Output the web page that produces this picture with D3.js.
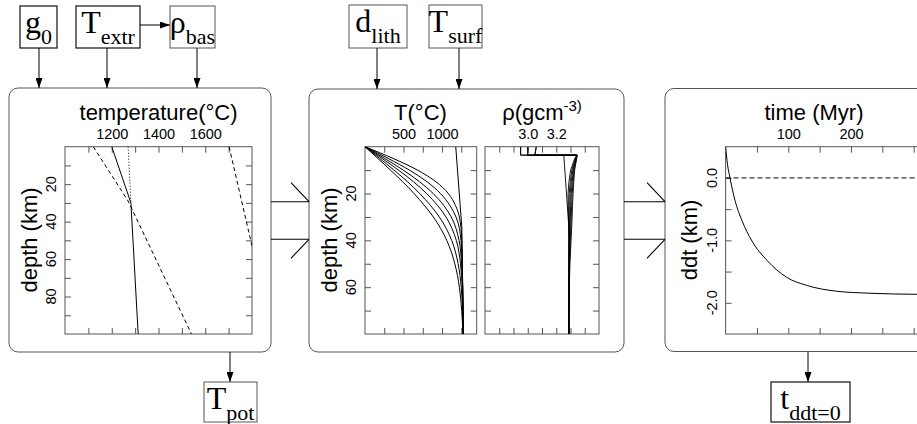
<!DOCTYPE html>
<html><head><meta charset="utf-8">
<script src="https://cdn.jsdelivr.net/npm/d3@7"></script>
<style>body{margin:0;background:#fff}svg{display:block}</style>
</head><body><svg id="c" width="917" height="424"></svg>
<script>
// ---------- data ----------
// panel 1: temperature vs depth
const p1TempTicks = [1100,1200,1300,1400,1500,1600,1700];
const p1TempLabels = [1200,1400,1600];
const p1DepthTicks = [10,20,30,40,50,60,70,80,90];
const p1DepthLabels = [20,40,60,80];
const p1Solid = [[1200,0],[1282,30],[1313,100]];
const p1Dotted = [[1270,0],[1282,30]];
const p1Dashed1 = [[1121,0],[1270,29],[1541,100]];
const p1Dashed2 = [[1702,0],[1800,53]];

// panel 2a: geotherms
const p2TTicks = [250,500,750,1000,1250];
const p2TLabels = [500,1000];
const p2DepthTicks = [10,20,30,40,50,60,70];
const p2DepthLabels = [20,40,60];
const geoDepths = [0,5,10,15,20,25,30,40,50,60,70,80];
const adiabatT = [[1178,0],[1256,34],[1277,80]];
const geotherm1 = [0,364,682,922,1082,1173,1225,1257,1263,1268,1272,1277];
const geotherm2 = [0,300,576,806,980,1100,1181,1246,1261,1268,1272,1277];
const geotherm3 = [0,254,497,709,885,1020,1119,1221,1254,1267,1272,1277];
const geotherm4 = [0,221,435,631,800,940,1051,1185,1240,1262,1271,1277];
const geotherm5 = [0,190,377,553,711,848,965,1125,1209,1249,1266,1275];
const geotherm6 = [0,166,331,490,637,769,887,1061,1166,1225,1255,1271];

// panel 2b: density
const p2RhoTicks = [2.8,2.9,3.0,3.1,3.2,3.3,3.4];
const p2RhoLabels = [3.0,3.2];
const crustBase = 3.6;
const rhoDepths = [3.6,5,10,15,20,25,30,40,50,60,70,80];
const adiabatRho = [[3.253,3.6],[3.289,35],[3.289,80]];
const crustRhoTop = [2.95,2.95,3.0,3.0,3.06,3.06];
const crustRhoBot = [2.95,2.95,3.0,3.0,3.05,3.05];
const density1 = [3.345,3.33,3.301,3.289,3.283,3.283,3.286,3.289,3.289,3.289,3.289,3.289];
const density2 = [3.345,3.335,3.309,3.298,3.291,3.288,3.289,3.290,3.289,3.289,3.289,3.289];
const density3 = [3.346,3.338,3.316,3.305,3.298,3.295,3.294,3.292,3.2897,3.289,3.289,3.289];
const density4 = [3.346,3.34,3.321,3.312,3.305,3.301,3.299,3.295,3.2907,3.2895,3.289,3.289];
const density5 = [3.347,3.342,3.325,3.318,3.312,3.308,3.3055,3.299,3.293,3.2904,3.2895,3.289];
const density6 = [3.347,3.343,3.329,3.323,3.318,3.314,3.3115,3.304,3.296,3.292,3.290,3.2895];

// panel 3: dynamic topography vs time
const p3TimeTicks = [50,100,150,200,250,300];
const p3TimeLabels = [100,200];
const p3DdtTicks = [-2.0,-1.5,-1.0,-0.5,0.0];
const p3DdtLabels = [-2.0,-1.0,0.0];
const ddtTime = [0,3,7,15,26,42,66,97,129,177,230,310];
const ddtValue = [0.5,0.22,0.0,-0.36,-0.68,-1.01,-1.32,-1.59,-1.72,-1.815,-1.847,-1.865];

// ---------- drawing ----------
const svg = d3.select("#c");
const SANS = "'Liberation Sans', Arial, Helvetica, sans-serif";
const SERIF = "'Liberation Serif', 'Times New Roman', serif";
const FRAME = "#555";

const defs = svg.append("defs");
defs.append("marker").attr("id","ah").attr("viewBox","0 0 10 7")
  .attr("refX",10).attr("refY",3.5).attr("markerWidth",10).attr("markerHeight",7)
  .attr("markerUnits","userSpaceOnUse").attr("orient","auto")
  .append("path").attr("d","M0,0L10,3.5L0,7Z").attr("fill","#000");

function panel(x,y,w,h){
  svg.append("rect").attr("x",x).attr("y",y).attr("width",w).attr("height",h)
    .attr("rx",9).attr("fill","none").attr("stroke",FRAME).attr("stroke-width",1);
}
function box(x,y,w,h,main,sub,bold){
  svg.append("rect").attr("x",x).attr("y",y).attr("width",w).attr("height",h)
    .attr("fill","#fff").attr("stroke",bold?"#222":"#555").attr("stroke-width",bold?1.3:1);
  const t = svg.append("text").attr("x",x+w/2).attr("y",y+27).attr("text-anchor","middle")
    .attr("font-family",SERIF).attr("fill","#000");
  t.append("tspan").attr("font-size",32).text(main);
  t.append("tspan").attr("font-size",22).attr("dy",11).text(sub);
}
function arrow(x1,y1,x2,y2){
  svg.append("line").attr("x1",x1).attr("y1",y1).attr("x2",x2).attr("y2",y2)
    .attr("stroke","#000").attr("stroke-width",1).attr("marker-end","url(#ah)");
}
function plline(x1,y1,x2,y2,c){
  svg.append("line").attr("x1",x1).attr("y1",y1).attr("x2",x2).attr("y2",y2)
    .attr("stroke",c||"#000").attr("stroke-width",1.1);
}

let clipN = 0;
function plot(x, y, xTicks, xLabels, yTicks, yLabels, fmtX, fmtY){
  const [x0,x1] = x.range(), [y0,y1] = y.range();
  const g = svg.append("g");
  const id = "clip"+(clipN++);
  defs.append("clipPath").attr("id",id).append("rect")
    .attr("x",x0).attr("y",y0).attr("width",x1-x0).attr("height",y1-y0);
  const ax = (sel)=>{ sel.select(".domain").remove(); sel.selectAll(".tick line").attr("stroke",FRAME); };
  g.append("g").attr("transform",`translate(0,${y0})`)
    .call(d3.axisTop(x).tickValues(xTicks).tickSizeInner(-6).tickSizeOuter(0).tickPadding(8)
      .tickFormat(d=> xLabels.includes(d)? fmtX(d) : ""))
    .call(ax)
    .call(s=>s.selectAll("text").attr("font-family",SANS).attr("font-size",14.5).attr("fill","#000"));
  g.append("g").attr("transform",`translate(0,${y1})`)
    .call(d3.axisBottom(x).tickValues(xTicks).tickSizeInner(-6).tickSizeOuter(0).tickFormat(""))
    .call(ax);
  g.append("g").attr("transform",`translate(${x0},0)`)
    .call(d3.axisLeft(y).tickValues(yTicks).tickSizeInner(-6).tickSizeOuter(0).tickFormat(""))
    .call(ax);
  g.append("g").attr("transform",`translate(${x1},0)`)
    .call(d3.axisRight(y).tickValues(yTicks).tickSizeInner(-6).tickSizeOuter(0).tickFormat(""))
    .call(ax);
  g.selectAll(null).data(yLabels).join("text")
    .attr("transform",d=>`translate(${x0-9},${y(d)}) rotate(-90)`)
    .attr("text-anchor","middle").attr("font-family",SANS).attr("font-size",14.5)
    .attr("fill","#000").text(fmtY);
  g.append("rect").attr("x",x0).attr("y",y0).attr("width",x1-x0).attr("height",y1-y0)
    .attr("fill","none").attr("stroke",FRAME).attr("stroke-width",1);
  const data = svg.append("g").attr("clip-path",`url(#${id})`);
  return data;
}
function ytitle(x,ymid,txt){
  svg.append("text").attr("transform",`translate(${x},${ymid}) rotate(-90)`)
    .attr("text-anchor","middle").attr("font-family",SANS).attr("font-size",22)
    .attr("fill","#000").text(txt);
}
function xtitle(xmid,y,parts){
  const t = svg.append("text").attr("x",xmid).attr("y",y).attr("text-anchor","middle")
    .attr("font-family",SANS).attr("font-size",22).attr("fill","#000");
  parts.forEach(p=>{
    const s = t.append("tspan").text(p.t);
    if(p.sup){ s.attr("font-size",15).attr("dy",-9); }
  });
}

// panels
panel(9,88,262,264);
panel(309,89,315,263);
panel(665,88.5,290,263);

// ---- panel 1 ----
const x1s = d3.scaleLinear().domain([1000,1800]).range([65,252]);
const y1s = d3.scaleLinear().domain([0,100]).range([146.7,334]);
const d1 = plot(x1s,y1s,p1TempTicks,p1TempLabels,p1DepthTicks,p1DepthLabels,d=>d,d=>d);
const l1 = d3.line().x(d=>x1s(d[0])).y(d=>y1s(d[1]));
d1.append("path").attr("d",l1(p1Solid)).attr("fill","none").attr("stroke","#000").attr("stroke-width",1);
d1.append("path").attr("d",l1(p1Dotted)).attr("fill","none").attr("stroke","#000").attr("stroke-width",1).attr("stroke-dasharray","1,2");
d1.append("path").attr("d",l1(p1Dashed1)).attr("fill","none").attr("stroke","#000").attr("stroke-width",1).attr("stroke-dasharray","4,3");
d1.append("path").attr("d",l1(p1Dashed2)).attr("fill","none").attr("stroke","#000").attr("stroke-width",1).attr("stroke-dasharray","4,3");
xtitle(158.5,120,[{t:"temperature(°C)"}]);
ytitle(37,240,"depth (km)");

// ---- panel 2a ----
const x2s = d3.scaleLinear().domain([0,1450]).range([365,476.7]);
const y2s = d3.scaleLinear().domain([0,80]).range([146.7,334]);
const d2 = plot(x2s,y2s,p2TTicks,p2TLabels,p2DepthTicks,p2DepthLabels,d=>d,d=>d);
const lg = d3.line().x(d=>x2s(d[0])).y(d=>y2s(d[1])).curve(d3.curveMonotoneY);
d2.append("path").attr("d",d3.line().x(d=>x2s(d[0])).y(d=>y2s(d[1]))(adiabatT))
  .attr("fill","none").attr("stroke","#000").attr("stroke-width",1);
[geotherm1,geotherm2,geotherm3,geotherm4,geotherm5,geotherm6].forEach(arr=>{
  d2.append("path").attr("d",lg(arr.map((t,i)=>[t,geoDepths[i]])))
    .attr("fill","none").attr("stroke","#000").attr("stroke-width",1);
});
xtitle(420.5,120,[{t:"T(°C)"}]);
ytitle(337,240,"depth (km)");

// ---- panel 2b ----
const x2b = d3.scaleLinear().domain([2.7,3.5]).range([485,599]);
const d2b = plot(x2b,y2s,p2RhoTicks,p2RhoLabels,p2DepthTicks,[],d=>d.toFixed(1),d=>d);
const lr = d3.line().x(d=>x2b(d[0])).y(d=>y2s(d[1]));
d2b.append("path").attr("d",lr(adiabatRho)).attr("fill","none").attr("stroke","#000").attr("stroke-width",0.9);
[density1,density2,density3,density4,density5,density6].forEach((arr,k)=>{
  const pts = [[crustRhoTop[k],0],[crustRhoBot[k],crustBase]].concat(arr.map((r,i)=>[r,rhoDepths[i]]));
  d2b.append("path").attr("d",lr(pts)).attr("fill","none").attr("stroke","#000").attr("stroke-width",0.9);
});
xtitle(542,120,[{t:"ρ(gcm"},{t:"-3)",sup:true}]);

// ---- panel 3 ----
const x3s = d3.scaleLinear().domain([0,320]).range([725.6,926.2]);
const y3s = d3.scaleLinear().domain([0.5,-2.5]).range([146.7,334]);
const d3g = plot(x3s,y3s,p3TimeTicks,p3TimeLabels,p3DdtTicks,p3DdtLabels,d=>d,d=>d.toFixed(1));
d3g.append("path").attr("d",d3.line().x(d=>x3s(d[0])).y(d=>y3s(d[1])).curve(d3.curveMonotoneX)(ddtTime.map((t,i)=>[t,ddtValue[i]])))
  .attr("fill","none").attr("stroke","#000").attr("stroke-width",1);
d3g.append("line").attr("x1",x3s(0)).attr("x2",x3s(320)).attr("y1",y3s(0)).attr("y2",y3s(0))
  .attr("stroke","#000").attr("stroke-width",1).attr("stroke-dasharray","5,3");
xtitle(814,120,[{t:"time (Myr)"}]);
ytitle(697,240,"ddt (km)");

// ---- connectors between panels ----
function funnel(xa,xb){
  plline(xa,201.7,xb,201.7); plline(xa,239.3,xb,239.3);
  plline(xb-18,182.7,xb,201.7); plline(xb-18,258.3,xb,239.3);
}
funnel(271,309);
funnel(624,665);

// ---- parameter boxes ----
box(20,6,37,42,"g","0",true);
box(76,6,64,42,"T","extr",true);
box(170,6,45,42,"ρ","bas",false);
arrow(140,25,170,25);
arrow(39,48,39,88);
arrow(107,48,107,88);
arrow(197,48,197,88);
box(349,5,58,43,"d","lith",false);
box(429,5,53,43,"T","surf",false);
arrow(377,48,377,89);
arrow(459,48,459,89);
arrow(230,352,230,382);
box(204,382,53,40,"T","pot",false);
arrow(808,352,808,382);
box(771,382,79,40,"t","ddt=0",true);
</script></body></html>
